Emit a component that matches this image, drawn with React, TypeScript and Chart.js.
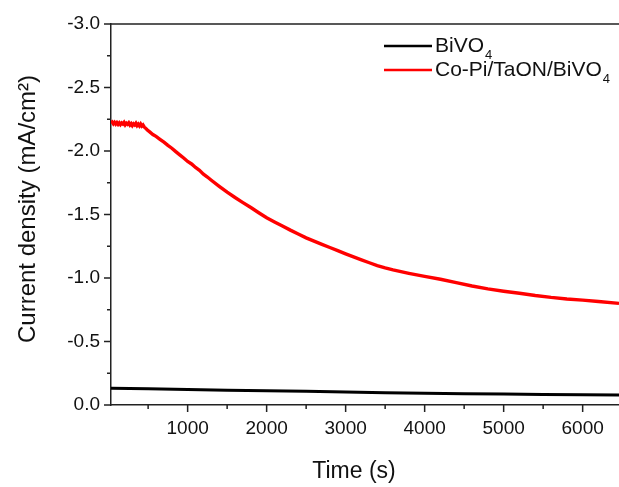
import React, { useEffect, useRef } from "react";
import { Chart, registerables } from "chart.js";

Chart.register(...registerables);

// ---- data ----
const redTime = [
  30, 45, 60, 75, 90, 105, 120, 135, 150, 165, 180, 195, 210, 225, 240, 255,
  270, 285, 300, 315, 330, 345, 360, 375, 390, 405, 420, 435, 450, 470, 490,
  520, 560, 600, 650, 700, 750, 800, 850, 900, 950, 1000, 1050, 1100, 1150,
  1200, 1250, 1300, 1400, 1500, 1600, 1700, 1800, 1900, 2000, 2100, 2200,
  2300, 2400, 2500, 2600, 2700, 2800, 2900, 3000, 3100, 3200, 3300, 3400,
  3500, 3600, 3700, 3800, 3900, 4000, 4200, 4400, 4600, 4800, 5000, 5200,
  5400, 5600, 5800, 6000, 6200, 6460,
];
const redCurrent = [
  -2.22, -2.228, -2.214, -2.226, -2.212, -2.224, -2.21, -2.222, -2.208,
  -2.22, -2.212, -2.225, -2.206, -2.218, -2.21, -2.222, -2.205, -2.216,
  -2.2, -2.214, -2.205, -2.218, -2.2, -2.212, -2.198, -2.212, -2.196, -2.205,
  -2.19, -2.178, -2.165, -2.15, -2.13, -2.115, -2.092, -2.07, -2.045, -2.022,
  -1.995, -1.97, -1.945, -1.918, -1.898, -1.87, -1.848, -1.818, -1.795,
  -1.77, -1.722, -1.676, -1.634, -1.594, -1.555, -1.514, -1.474, -1.441,
  -1.409, -1.377, -1.347, -1.316, -1.29, -1.265, -1.24, -1.215, -1.19,
  -1.166, -1.143, -1.12, -1.098, -1.08, -1.064, -1.05, -1.037, -1.025,
  -1.013, -0.99, -0.963, -0.937, -0.914, -0.896, -0.88, -0.862, -0.847,
  -0.835, -0.826, -0.815, -0.8,
];
const blackTime = [30, 500, 1000, 1500, 2000, 2500, 3000, 3500, 4000, 4500, 5000, 5500, 6000, 6460];
const blackCurrent = [
  -0.131, -0.127, -0.122, -0.117, -0.113, -0.108, -0.102, -0.097, -0.093,
  -0.089, -0.086, -0.083, -0.08, -0.078,
];

const seriesNames = ["BiVO", "Co-Pi/TaON/BiVO"];
const seriesSubs = ["4", "4"];
const seriesColors = ["#000000", "#ff0000"];

const xMajorTicks = [1000, 2000, 3000, 4000, 5000, 6000];
const xMinorTicks = [500, 1500, 2500, 3500, 4500, 5500, 6500];
const yMajorTicks = [-3, -2.5, -2, -1.5, -1, -0.5, 0];
const yMinorTicks = [-2.75, -2.25, -1.75, -1.25, -0.75, -0.25];

const xTitle = "Time (s)";
const yTitle = "Current density (mA/cm²)";

const FONT = "'Liberation Sans', Arial, sans-serif";

const decorPlugin = {
  id: "decor",
  afterDraw(chart: any) {
    const { ctx, chartArea: a, scales } = chart;
    const x = scales.x;
    const y = scales.y;
    ctx.save();
    ctx.strokeStyle = "#222";
    ctx.lineWidth = 1.5;
    ctx.beginPath();
    // top frame line
    ctx.moveTo(a.left, a.top);
    ctx.lineTo(a.right, a.top);
    // x ticks
    const xt = (v: number, len: number) => {
      const p = x.getPixelForValue(v);
      if (p < a.left - 0.5 || p > a.right + 0.5) return;
      ctx.moveTo(p, a.bottom);
      ctx.lineTo(p, a.bottom + len);
    };
    xMajorTicks.forEach((v) => xt(v, 7));
    xMinorTicks.forEach((v) => xt(v, 4));
    const yt = (v: number, len: number) => {
      const p = y.getPixelForValue(v);
      ctx.moveTo(a.left, p);
      ctx.lineTo(a.left - len, p);
    };
    yMajorTicks.forEach((v) => yt(v, 7));
    yMinorTicks.forEach((v) => yt(v, 4));
    ctx.stroke();

    // legend
    const lx0 = a.left + 273;
    const lx1 = a.left + 321;
    const rows = [a.top + 22, a.top + 46];
    seriesNames.forEach((name, i) => {
      const ry = rows[i];
      ctx.beginPath();
      ctx.strokeStyle = seriesColors[i];
      ctx.lineWidth = 2.5;
      ctx.moveTo(lx0, ry);
      ctx.lineTo(lx1, ry);
      ctx.stroke();
      ctx.fillStyle = "#111";
      ctx.textBaseline = "middle";
      ctx.textAlign = "left";
      ctx.font = `21px ${FONT}`;
      ctx.fillText(name, lx1 + 3, ry);
      const w = ctx.measureText(name).width;
      ctx.font = `13px ${FONT}`;
      ctx.fillText(seriesSubs[i], lx1 + 3 + w + 1, ry + 9);
    });

    // axis titles
    ctx.fillStyle = "#111";
    ctx.font = `23px ${FONT}`;
    ctx.textAlign = "center";
    ctx.textBaseline = "middle";
    ctx.fillText(xTitle, 354, 472);
    ctx.save();
    ctx.translate(28, 209);
    ctx.rotate(-Math.PI / 2);
    ctx.font = `24px ${FONT}`;
    ctx.fillText(yTitle, 0, 0);
    ctx.restore();
    ctx.restore();
  },
};

export default function App() {
  const ref = useRef<HTMLCanvasElement | null>(null);
  useEffect(() => {
    if (!ref.current) return;
    const chart = new Chart(ref.current, {
      type: "line",
      data: {
        datasets: [
          {
            label: seriesNames[0] + "₄",
            data: blackTime.map((t, i) => ({ x: t, y: blackCurrent[i] })),
            borderColor: seriesColors[0],
            borderWidth: 3,
            pointRadius: 0,
            tension: 0,
          },
          {
            label: seriesNames[1] + "₄",
            data: redTime.map((t, i) => ({ x: t, y: redCurrent[i] })),
            borderColor: seriesColors[1],
            borderWidth: 3.4,
            pointRadius: 0,
            tension: 0,
          },
        ],
      },
      options: {
        responsive: false,
        animation: false,
        layout: { padding: { top: 24, right: 0, left: 0, bottom: 0 } },
        plugins: { legend: { display: false }, tooltip: { enabled: false } },
        scales: {
          x: {
            type: "linear",
            min: 30,
            max: 6460,
            grid: { display: false, drawTicks: false },
            border: { display: true, color: "#222", width: 1.5 },
            afterBuildTicks: (s: any) => {
              s.ticks = xMajorTicks.map((v) => ({ value: v }));
            },
            afterFit: (s: any) => {
              s.height = 82;
            },
            ticks: {
              autoSkip: false,
              maxRotation: 0,
              padding: 12,
              color: "#111",
              font: { family: FONT, size: 19 },
              callback: (v: any) => String(v),
            },
          },
          y: {
            type: "linear",
            min: -3,
            max: 0,
            reverse: true,
            grid: { display: false, drawTicks: false },
            border: { display: true, color: "#222", width: 1.5 },
            afterBuildTicks: (s: any) => {
              s.ticks = yMajorTicks.map((v) => ({ value: v }));
            },
            afterFit: (s: any) => {
              s.width = 111;
            },
            ticks: {
              padding: 11,
              color: "#111",
              font: { family: FONT, size: 19 },
              callback: (v: any) => Number(v).toFixed(1),
            },
          },
        },
      },
      plugins: [decorPlugin],
    });
    return () => chart.destroy();
  }, []);
  return (
    <div style={{ position: "fixed", left: 0, top: 0, width: 619, height: 487, background: "#fff" }}>
      <canvas ref={ref} width={619} height={487} style={{ display: "block" }} />
    </div>
  );
}
